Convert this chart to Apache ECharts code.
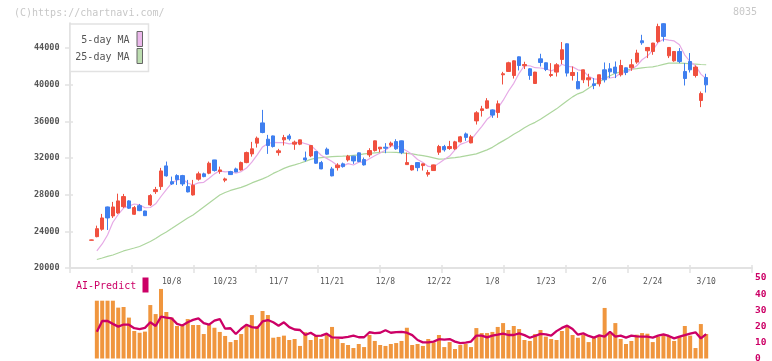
<!DOCTYPE html>
<html><head><meta charset="utf-8">
<script src="https://cdn.jsdelivr.net/npm/echarts@6/dist/echarts.min.js"></script>
<style>html,body{margin:0;padding:0;background:#fff}#c{width:772px;height:361px}</style>
</head><body><div id="c"></div>
<script>
const dates = ['9/16','9/17','9/18','9/19','9/22','9/24','9/25','9/26','9/29','9/30','10/1','10/2','10/3','10/6','10/7','10/8','10/9','10/10','10/14','10/15','10/16','10/17','10/20','10/21','10/22','10/23','10/24','10/27','10/28','10/29','10/30','10/31','11/4','11/5','11/6','11/7','11/10','11/11','11/12','11/13','11/14','11/17','11/18','11/19','11/20','11/21','11/25','11/26','11/27','11/28','12/1','12/2','12/3','12/4','12/5','12/8','12/9','12/10','12/11','12/12','12/15','12/16','12/17','12/18','12/19','12/22','12/23','12/24','12/25','12/26','12/29','12/30','1/5','1/6','1/7','1/8','1/9','1/13','1/14','1/15','1/16','1/19','1/20','1/21','1/22','1/23','1/26','1/27','1/28','1/29','1/30','2/2','2/3','2/4','2/5','2/6','2/9','2/10','2/12','2/13','2/16','2/17','2/18','2/19','2/20','2/24','2/25','2/26','2/27','3/2','3/3','3/4','3/5','3/6','3/9','3/10'];
const opens = [23030,23420,24230,26660,25680,26010,26690,27320,25860,26800,26220,26880,28330,28880,31140,29420,30080,30080,28880,27970,29690,30270,30340,31790,30520,29580,30520,30810,30700,31500,32450,33620,35830,34050,34410,32590,33980,34410,33510,33510,32010,32230,32700,31500,32960,30810,30950,31360,31790,32200,32560,31830,32340,32810,33000,33180,33400,33790,33870,31280,30700,31500,31170,30230,30630,32630,33250,33030,33000,33760,34630,33650,36050,37180,37440,37250,36960,41080,41440,41000,43040,42060,41730,40130,42820,42390,41000,41370,42750,44460,41000,40340,40530,40530,40090,40090,41620,41730,41920,41080,41840,41840,42460,44790,43700,43620,44710,46650,43150,42600,43620,41440,42530,41000,38270,40780];
const closes = [23060,24290,25460,25460,26660,27320,27790,26520,26590,26260,25710,27900,28550,30590,30050,29170,29640,29170,28300,29030,30270,29970,31430,30630,30700,29720,30190,30480,31500,32590,33000,34160,34780,33360,33250,32780,34230,34090,33730,33980,31790,33360,31430,30810,32420,30050,31220,31060,32200,31680,31610,31250,32810,33870,33180,33070,33620,33000,32590,31500,31170,30950,31360,30410,31250,33250,32890,33250,33760,34310,34250,34310,36930,37360,38240,36680,37910,41190,42390,42600,42090,42200,41000,41370,42420,41650,41110,42170,43810,41260,41330,39550,41620,40750,39910,41080,40530,41400,41260,42090,41330,42170,43450,44570,44060,44540,46350,45260,44060,43620,42530,40670,41620,41920,39030,39980];
const lows = [23010,23350,24070,24150,25460,25900,26550,26440,25800,26200,25680,26770,28080,28520,29970,29060,29060,28950,28250,27900,29530,29900,30230,30520,30270,29360,30150,30450,30620,31430,32150,33140,34700,32450,33140,32260,33360,33900,32890,33400,31610,32090,31360,30780,32340,30000,30630,30950,31610,31360,31540,31170,32090,32700,32630,32520,33180,32890,32420,31250,30620,30560,30630,29970,30590,32340,32700,32890,32890,33700,33870,33600,35650,36520,37360,36380,36380,40020,41400,40670,41550,41700,40530,40090,41980,41480,40820,40890,42240,40890,40450,39500,40170,39800,39510,39800,40240,40720,40720,40890,41040,41510,42280,44350,42900,43260,44540,44710,42900,42500,42350,39910,41330,40780,37550,39140];
const highs = [23090,24620,25900,26700,27210,28110,28080,27400,26770,26990,26250,28050,28850,30920,31610,29970,30230,30160,29610,29610,30510,30400,31610,31800,31060,29860,30600,30950,31610,32700,33760,34340,37250,34520,34450,33000,34520,34630,33900,34000,32700,33380,32720,31680,33140,31030,31430,31500,32340,32220,32600,32050,33070,33900,33200,33620,33790,34050,33900,32590,31250,31520,31400,30700,31280,33430,33430,33870,33870,34410,34780,34520,37110,37690,38530,37300,38270,41400,42500,42650,43080,42500,41800,41400,43370,42420,42350,42350,44650,44500,41980,41370,41650,41190,40720,41100,42420,42350,42530,42710,41880,42790,43810,45440,44100,44560,46650,46700,44100,43650,43990,42350,43450,42090,39250,41190];
const ma5 = [null,21860,22620,23600,24990,25840,26540,26750,26980,26900,26570,26600,27000,27800,28560,29250,29600,29720,29270,29060,29280,29350,29800,30270,30600,30490,30530,30340,30520,30900,31550,32350,33210,33580,33710,33670,33680,33540,33620,33760,33560,33390,32860,32270,31960,31610,31190,31110,31390,31240,31550,31560,31910,32240,32540,32840,33310,33350,33090,32760,32380,31840,31510,31080,31030,31440,31830,32210,32880,33490,33690,33980,34710,35430,36220,36700,37420,38280,39280,40150,41240,42090,42060,41850,41820,41730,41510,41740,42230,42000,41940,41620,41510,40900,40630,40580,40780,40730,40840,41270,41320,41650,42060,42720,43120,43760,44590,44960,44850,44770,44360,43230,42500,42070,41150,40640];
const ma25 = [null,20930,21090,21260,21420,21640,21860,22020,22180,22350,22620,22890,23220,23600,23930,24310,24700,25080,25460,25790,26220,26660,27100,27530,27970,28240,28460,28630,28790,29010,29280,29500,29720,29990,30320,30590,30870,31080,31250,31430,31630,31850,31980,32040,32100,32150,32180,32200,32230,32290,32340,32450,32500,32560,32610,32630,32630,32610,32560,32500,32450,32340,32260,32150,32010,31870,31900,31980,32040,32120,32230,32340,32450,32670,32890,33160,33540,33870,34200,34580,34910,35290,35620,35890,36220,36600,36980,37360,37800,38240,38670,39000,39220,39600,39980,40310,40640,40970,41240,41400,41570,41700,41760,41840,41900,41950,42060,42220,42350,42350,42350,42330,42280,42250,42200,42170];
const aiBars = [null,35.9,35.9,35.9,35.9,31.6,32,25.4,17.1,16,16.7,33.2,27.6,43.2,28.9,25.4,20.2,20.4,24.5,20.8,20.8,15.2,20.8,19.1,16.5,14,10.2,11.5,15.2,20.2,27,20.2,29.5,27,12.9,13.4,14.2,11.5,12.1,7.8,16.3,11.5,14.2,12.1,15.2,19.6,12.1,9.6,8.4,6.5,9,7.1,14.6,10.9,8.4,7.8,9,9.6,10.9,19.1,8.4,9,7.8,12.1,10,14.6,7.1,10.2,5.9,8.4,9,7.1,18.9,15.8,15.8,16.5,19.6,22,17.7,20.2,18.3,11.5,10.9,15.2,17.7,13.6,12.1,11.5,17.1,19.6,14.6,12.9,14.6,10.2,12.7,14,31.4,15.4,22,12.1,9,10.9,14.8,15.8,15.4,10.2,13.6,14.6,14,10.9,13.6,20.2,14.2,6.5,21.4,15.2];
const aiLine = [null,16.6,23.3,23.3,21.5,19.8,21.1,21,18.8,18.3,19,22.5,20.2,26,25.4,24.9,21.5,20.5,22.5,24,24.9,22,21,23.5,24.5,18.5,18.8,15.2,18.5,21,19.5,19,23,23.9,22.5,20.4,22.5,19.5,18,17.7,14.6,16,14,14.2,15.4,13.1,13,12.9,13.5,14.2,13.2,13.2,16.3,15.8,16,17.6,16,16.4,16.6,16,14.5,11.5,10,10,10.5,12,11.7,12.1,10.5,9.5,9.8,10.5,14.2,14.2,13.1,14.2,14.8,15.5,14.6,14.6,15.6,14.5,12.9,14,15.3,15,14.2,17,19,20.4,18.3,14.8,15.6,14,13,14.4,13.6,16.6,13.6,14.2,13,14.2,13.8,13.6,13.6,13,14.2,15,14,12.5,13.6,14.5,15.5,16.3,12.5,15.2];
const priceTicks = [20000, 24000, 28000, 32000, 36000, 40000, 44000];
const aiTicks = [0, 10, 20, 30, 40, 50];

const FONT = '"DejaVu Sans Mono", monospace';
const AX = '#e2e2e2';
const candle = dates.map((d, i) => [opens[i], closes[i], lows[i], highs[i]]);
const chart = echarts.init(document.getElementById('c'), null, {renderer: 'canvas'});
const hiddenVal = (g) => ({gridIndex: g, type: 'value', show: false, min: 0, max: 1, splitLine: {show: false}});
const option = {
  animation: false,
  grid: [
    {left: 70, right: 20, top: 23.25, bottom: 93, outerBoundsMode: 'none'},
    {left: 70, right: 20, top: 48, bottom: 93, outerBoundsMode: 'none'},
    {left: 91.5, right: 65.8, top: 23.25, bottom: 93, outerBoundsMode: 'none'},
    {left: 91.5, right: 65.8, top: 278, bottom: 2.5, outerBoundsMode: 'none'},
    {left: 70, right: 20, top: 278, bottom: 2.5, outerBoundsMode: 'none'}
  ],
  xAxis: [
    {gridIndex: 0, type: 'value', position: 'bottom', min: 0, max: 11, interval: 1,
     axisLine: {show: true, lineStyle: {color: AX, width: 2}},
     axisTick: {show: true, length: 5, lineStyle: {color: AX, width: 1.5}},
     axisLabel: {show: false}, splitLine: {show: false}},
    {gridIndex: 0, type: 'value', position: 'bottom', min: 0, max: 11, interval: 1,
     axisLine: {show: false},
     axisTick: {show: true, inside: true, length: 3, lineStyle: {color: AX, width: 1.5}},
     axisLabel: {show: false}, splitLine: {show: false}},
    hiddenVal(1),
    {gridIndex: 2, type: 'category', data: dates, boundaryGap: false,
     axisLine: {show: false}, axisTick: {show: false}, splitLine: {show: false},
     axisLabel: {interval: (i) => i >= 15 && (i - 15) % 10 === 0, margin: 10, fontSize: 8,
                 color: '#555', fontFamily: FONT}},
    {gridIndex: 3, type: 'category', data: dates, boundaryGap: false, show: false},
    hiddenVal(4)
  ],
  yAxis: [
    {gridIndex: 0, type: 'value', position: 'left', min: priceTicks[0], max: 46700,
     axisLine: {show: true, lineStyle: {color: AX, width: 2}},
     axisTick: {show: false}, axisLabel: {show: false}, splitLine: {show: false}},
    {gridIndex: 1, type: 'value', position: 'left', min: priceTicks[0], max: priceTicks[priceTicks.length - 1], interval: 4000,
     axisLine: {show: false},
     axisTick: {show: true, length: 5, lineStyle: {color: AX, width: 1.5}},
     axisLabel: {margin: 10.5, fontSize: 8.5, fontWeight: 'bold', color: '#555', fontFamily: FONT,
                 formatter: (v) => String(v)},
     splitLine: {show: false}},
    {gridIndex: 1, type: 'value', position: 'left', min: priceTicks[0], max: priceTicks[priceTicks.length - 1], interval: 4000,
     axisLine: {show: false},
     axisTick: {show: true, inside: true, length: 3, lineStyle: {color: AX, width: 1.5}},
     axisLabel: {show: false}, splitLine: {show: false}},
    {gridIndex: 2, type: 'value', min: priceTicks[0], max: 46700, show: false, splitLine: {show: false}},
    {gridIndex: 3, type: 'value', min: aiTicks[0], max: aiTicks[aiTicks.length - 1], show: false, splitLine: {show: false}},
    {gridIndex: 4, type: 'value', position: 'right', min: aiTicks[0], max: aiTicks[aiTicks.length - 1], interval: 10,
     axisLine: {show: false}, axisTick: {show: false}, splitLine: {show: false},
     axisLabel: {margin: 3, fontSize: 9.5, fontWeight: 'bold', color: '#CC0066', fontFamily: FONT}}
  ],
  series: [
    {type: 'line', name: '25-day MA', xAxisIndex: 3, yAxisIndex: 3, data: ma25, showSymbol: false,
     lineStyle: {color: '#ADD69E', width: 1.2}, z: 1},
    {type: 'line', name: '5-day MA', xAxisIndex: 3, yAxisIndex: 3, data: ma5, showSymbol: false,
     lineStyle: {color: '#E6AAE6', width: 1.2}, z: 1},
    {type: 'candlestick', xAxisIndex: 3, yAxisIndex: 3, data: candle, barWidth: 3.8, clip: false, z: 2,
     itemStyle: {color: '#F0503F', color0: '#3F7FEF', borderColor: '#F0503F', borderColor0: '#3F7FEF', borderWidth: 1}},
    {type: 'bar', xAxisIndex: 4, yAxisIndex: 4, data: aiBars, barWidth: 4, clip: false,
     itemStyle: {color: '#F0963E'}},
    {type: 'line', xAxisIndex: 4, yAxisIndex: 4, data: aiLine, showSymbol: false,
     lineStyle: {color: '#CC0066', width: 2.3}, z: 3}
  ],
  graphic: [
    {type: 'text', x: 14, y: 13, z: 100, style: {text: '(C)https://chartnavi.com/', fill: '#c8c8c8', font: '10px ' + FONT, textVerticalAlign: 'middle'}},
    {type: 'text', x: 757, y: 12, z: 100, style: {text: '8035', fill: '#c8c8c8', font: '10px ' + FONT, textAlign: 'right', textVerticalAlign: 'middle'}},
    {type: 'rect', z: 100, shape: {x: 70, y: 24, width: 78.5, height: 47.5}, style: {fill: '#fff', stroke: '#e2e2e2', lineWidth: 1.5}},
    {type: 'text', x: 129.5, y: 40, z: 101, style: {text: '5-day MA', fill: '#555', font: '10px ' + FONT, textAlign: 'right', textVerticalAlign: 'middle'}},
    {type: 'text', x: 129.5, y: 57, z: 101, style: {text: '25-day MA', fill: '#555', font: '10px ' + FONT, textAlign: 'right', textVerticalAlign: 'middle'}},
    {type: 'rect', z: 101, shape: {x: 137, y: 31.5, width: 5.5, height: 15}, style: {fill: '#EBB8EB', stroke: '#666', lineWidth: 1}},
    {type: 'rect', z: 101, shape: {x: 137, y: 48.5, width: 5.5, height: 15}, style: {fill: '#BCDDB0', stroke: '#666', lineWidth: 1}},
    {type: 'text', x: 76, y: 286, z: 101, style: {text: 'AI-Predict', fill: '#CC0066', font: '10px ' + FONT, textVerticalAlign: 'middle'}},
    {type: 'rect', z: 101, shape: {x: 142.5, y: 277.5, width: 6, height: 15}, style: {fill: '#CC0066'}}
  ]
};
chart.setOption(option);
</script>
</body></html>
